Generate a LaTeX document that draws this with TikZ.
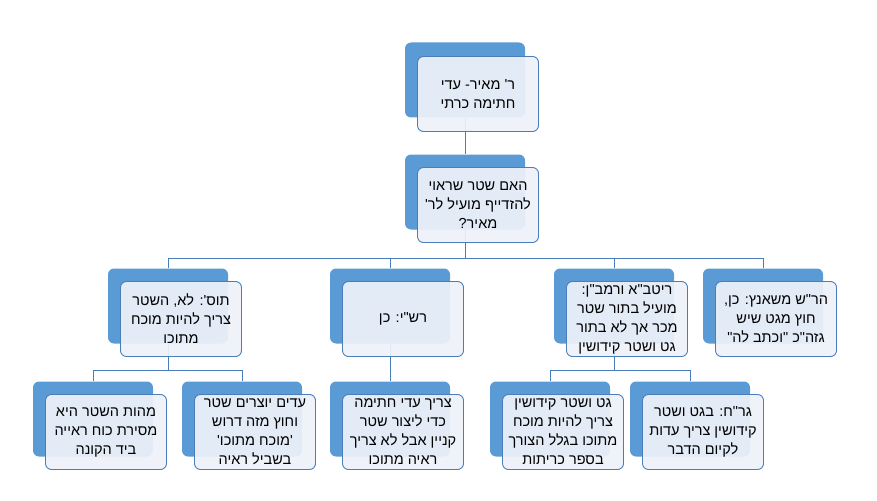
\documentclass[tikz,border=0pt]{standalone}
\usepackage{fontspec}
\newfontfamily\hebfont[Script=Hebrew]{Liberation Sans}
\TeXXeTstate=1
\usetikzlibrary{positioning}
\definecolor{backblue}{HTML}{5B9BD5}
\definecolor{lineblue}{HTML}{4A7EBB}
\definecolor{paleblue}{HTML}{EEF2F9}
\newcommand{\rl}[1]{\beginR #1\endR}

\begin{document}
\begin{tikzpicture}[x=1pt,y=-1pt,
    font=\hebfont\fontsize{14.5}{19}\selectfont]
    % Setup the styles for the boxes
    \tikzset{back box/.style={
        rounded corners=6pt,
        minimum width=120pt,
        minimum height=75pt,
        fill=backblue},
      front box/.style={
        rounded corners=6pt,
        minimum width=121pt,
        minimum height=75pt,
        inner sep=1pt,
        draw=lineblue,
        line width=0.9pt,
        fill=paleblue,
        fill opacity=0.92,
        text opacity=1,
        align=center},
      link/.style={draw=lineblue, line width=0.9pt}}
    \useasboundingbox (0,0) rectangle (877,500);

    % Draw the back boxes
    \node[back box] at (465, 80)  (meir)  {};
    \node[back box] at (465, 192) (q)     {};
    \node[back box] at (168, 306) (tos)   {};
    \node[back box] at (390, 306) (rashi) {};
    \node[back box] at (614, 306) (ritva) {};
    \node[back box] at (763, 306) (rash)  {};
    \node[back box] at (93, 419)  (mahut) {};
    \node[back box] at (242, 419) (edim)  {};
    \node[back box] at (390, 419) (chatima) {};
    \node[back box] at (550, 419) (get)   {};
    \node[back box] at (690, 419) (grach) {};

    % Connect the boxes
    \draw[link] (meir) -- (q);
    \coordinate (qjoin) at (465, 258);
    \draw[link] (q) -- (qjoin);
    \foreach \n in {tos, rashi, ritva, rash}
        \draw[link] (qjoin) -| (\n.north);
    \coordinate (tjoin) at (168, 370);
    \draw[link] (tos) -- (tjoin);
    \foreach \n in {mahut, edim}
        \draw[link] (tjoin) -| (\n.north);
    \draw[link] (rashi) -- (chatima);
    \coordinate (rjoin) at (614, 370);
    \draw[link] (ritva) -- (rjoin);
    \foreach \n in {get, grach}
        \draw[link] (rjoin) -| (\n.north);

    % Draw the front boxes
    \node[front box] at (478, 94)  (meirF)  {\rl{ר' מאיר- עדי}\\\rl{חתימה כרתי}};
    \node[front box] at (478, 205) (qF)     {\rl{האם שטר שראוי}\\\rl{להזדייף מועיל לר'}\\\rl{מאיר?}};
    \node[front box] at (181, 319) (tosF)   {\rl{תוס': לא, השטר}\\\rl{צריך להיות מוכח}\\\rl{מתוכו}};
    \node[front box] at (403, 319) (rashiF) {\rl{רש"י: כן}};
    \node[front box] at (627, 319) (ritvaF) {\rl{ריטב"א ורמב"ן:}\\\rl{מועיל בתור שטר}\\\rl{מכר אך לא בתור}\\\rl{גט ושטר קידושין}};
    \node[front box] at (776, 319) (rashF)  {\rl{הר"ש משאנץ: כן,}\\\rl{חוץ מגט שיש}\\\rl{גזה"כ "וכתב לה"}};
    \node[front box] at (106, 432) (mahutF) {\rl{מהות השטר היא}\\\rl{מסירת כוח ראייה}\\\rl{ביד הקונה}};
    \node[front box] at (255, 432) (edimF)  {\rl{עדים יוצרים שטר}\\\rl{וחוץ מזה דרוש}\\\rl{'מוכח מתוכו'}\\\rl{בשביל ראיה}};
    \node[front box] at (403, 432) (chatimaF) {\rl{צריך עדי חתימה}\\\rl{כדי ליצור שטר}\\\rl{קניין אבל לא צריך}\\\rl{ראיה מתוכו}};
    \node[front box] at (563, 432) (getF)   {\rl{גט ושטר קידושין}\\\rl{צריך להיות מוכח}\\\rl{מתוכו בגלל הצורך}\\\rl{בספר כריתות}};
    \node[front box] at (703, 432) (grachF) {\rl{גר"ח: בגט ושטר}\\\rl{קידושין צריך עדות}\\\rl{לקיום הדבר}};
\end{tikzpicture}
\end{document}
